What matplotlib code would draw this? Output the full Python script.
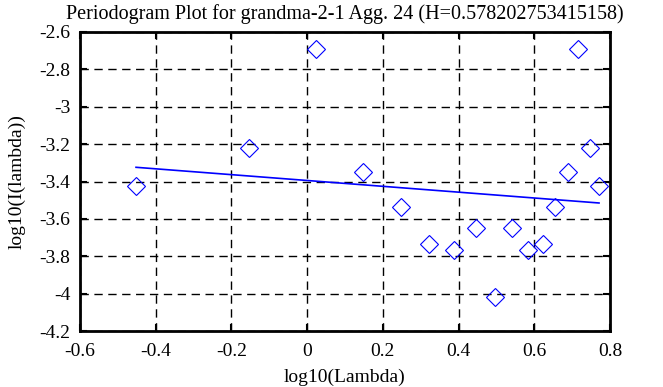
import numpy as np
import matplotlib
matplotlib.use('Agg')
import matplotlib.pyplot as plt

plt.rcParams['font.family'] = ['Liberation Serif', 'DejaVu Serif']

# periodogram points (log10 lambda, log10 I)
log_lambda = [-0.452, -0.154, 0.024, 0.147, 0.249, 0.322, 0.388, 0.446, 0.496,
              0.541, 0.583, 0.623, 0.655, 0.689, 0.715, 0.747, 0.771]
log_i = [-3.424, -3.221, -2.690, -3.350, -3.536, -3.734, -3.766, -3.649, -4.018,
         -3.649, -3.766, -3.734, -3.536, -3.350, -2.690, -3.221, -3.424]

# least squares fit line endpoints
fit_x = [-0.452, 0.771]
fit_y = [-3.324, -3.515]

xticks = [-0.6, -0.4, -0.2, 0, 0.2, 0.4, 0.6, 0.8]
yticks = [-4.2, -4, -3.8, -3.6, -3.4, -3.2, -3, -2.8, -2.6]

fig = plt.figure(figsize=(6.63, 3.87), dpi=100)
ax = fig.add_axes([80/663, 1-331/387, 530/663, 299/387])

ax.plot(log_lambda, log_i, linestyle='none', marker='D', markersize=9,
        markerfacecolor='none', markeredgecolor='blue', markeredgewidth=0.8)
ax.plot(fit_x, fit_y, color='blue', linewidth=1.2)

ax.set_xlim(-0.6, 0.8)
ax.set_ylim(-4.2, -2.6)
ax.set_xticks(xticks)
ax.set_yticks(yticks)
ax.set_xticklabels(['%g' % t for t in xticks])
ax.set_yticklabels(['%g' % t for t in yticks])
ax.grid(True, color='black', linestyle=(0, (6, 4)), linewidth=1)
ax.tick_params(direction='in', top=True, right=True, length=5, width=1.5,
               labelsize=14)
ax.tick_params(axis='x', pad=9)
ax.tick_params(axis='y', pad=7)
for s in ax.spines.values():
    s.set_linewidth(2)

ax.set_title('Periodogram Plot for grandma-2-1 Agg. 24 (H=0.578202753415158)',
             fontsize=14.5, pad=9)
ax.set_xlabel('log10(Lambda)', fontsize=14, labelpad=6)
ax.set_ylabel('log10(I(lambda))', fontsize=14, labelpad=10)

plt.savefig('out.png', dpi=100)
